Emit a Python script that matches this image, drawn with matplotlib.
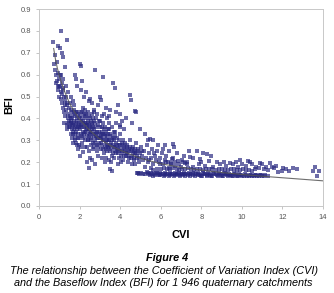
import numpy as np
import matplotlib.pyplot as plt

plt.rcParams['font.family'] = ['Liberation Sans', 'DejaVu Sans']

# points, grouped by region of the cloud
steep_pts = [(0.71,0.75),(1.08,0.80),(1.36,0.76),(0.95,0.73),(1.03,0.72),(1.12,0.70),(1.20,0.68),
             (0.79,0.69),(0.75,0.65),(0.79,0.62),(1.28,0.635),(0.85,0.60),(0.90,0.57),(0.82,0.56),
             (1.00,0.58),(1.05,0.55),(1.15,0.56),(0.95,0.53),(1.10,0.52),(1.20,0.53),(1.25,0.50),
             (1.00,0.50),(1.30,0.48),(1.15,0.47),(1.40,0.46),(1.35,0.44),(1.20,0.45),(1.50,0.45),
             (1.45,0.42),(1.30,0.41),(1.55,0.40),(1.60,0.43),(1.25,0.38),(1.40,0.37),(1.50,0.36),
             (1.60,0.38),(0.88,0.66),(0.92,0.61),(1.10,0.60),(1.18,0.58),(1.32,0.55),(1.45,0.52),
             (1.55,0.50),(1.65,0.48),(1.70,0.46),(0.98,0.545),(1.07,0.49),(1.22,0.43),(1.38,0.47),
             (1.48,0.39),(1.13,0.51),(1.27,0.46),(1.42,0.40),(1.36,0.35),(1.52,0.47),(1.33,0.50),
             (1.17,0.54),(1.02,0.60),(0.93,0.55),(1.44,0.38)]

upper_pts = [(2.02,0.65),(2.05,0.64),(2.76,0.62),(3.14,0.59),(3.66,0.56),(3.75,0.54),(1.77,0.60),
             (1.82,0.58),(1.87,0.55),(2.12,0.57),(2.08,0.53),(3.00,0.50),(3.03,0.485),(4.49,0.505),
             (4.52,0.485),(4.73,0.435),(4.78,0.43),(3.99,0.42),(4.10,0.39),(3.75,0.34),(5.47,0.305),
             (5.60,0.30),(6.21,0.28),(6.62,0.283),(6.67,0.27),(2.30,0.52),(2.50,0.49),(2.60,0.47),
             (2.90,0.46),(3.30,0.45),(3.50,0.44),(3.80,0.43),(4.30,0.40),(2.20,0.50),(2.45,0.48),
             (2.70,0.44),(3.20,0.42),(3.45,0.41),(4.00,0.37),(5.00,0.35),(5.20,0.33),(4.60,0.38),
             (3.90,0.46)]

core_pts = [(1.52,0.41),(1.56,0.38),(1.61,0.35),(1.58,0.33),(1.64,0.40),(1.67,0.37),(1.69,0.34),
            (1.63,0.31),(1.71,0.42),(1.54,0.36),
            (1.74,0.39),(1.78,0.36),(1.81,0.43),(1.76,0.33),(1.85,0.40),(1.83,0.37),(1.88,0.35),
            (1.79,0.30),(1.92,0.42),(1.95,0.38),(1.90,0.33),(1.97,0.36),(1.86,0.28),(1.99,0.31),
            (1.93,0.26),(1.73,0.44),
            (2.02,0.41),(2.06,0.39),(2.04,0.35),(2.09,0.37),(2.12,0.43),(2.15,0.34),(2.11,0.32),
            (2.18,0.39),(2.21,0.36),(2.14,0.29),(2.24,0.41),(2.27,0.38),(2.23,0.33),(2.29,0.35),
            (2.08,0.27),(2.26,0.30),(2.19,0.245),(2.03,0.23),(2.17,0.45),(2.28,0.44),
            (2.32,0.40),(2.35,0.37),(2.31,0.34),(2.38,0.32),(2.41,0.38),(2.44,0.35),(2.47,0.41),
            (2.43,0.30),(2.49,0.33),(2.52,0.36),(2.55,0.39),(2.58,0.31),(2.54,0.28),(2.36,0.27),
            (2.57,0.34),(2.46,0.25),(2.59,0.42),(2.39,0.43),(2.51,0.22),(2.34,0.20),(2.48,0.175),
            (2.62,0.37),(2.65,0.33),(2.68,0.40),(2.71,0.35),(2.74,0.30),(2.77,0.38),(2.79,0.32),
            (2.82,0.36),(2.85,0.28),(2.88,0.34),(2.91,0.31),(2.94,0.39),(2.97,0.29),(2.66,0.26),
            (2.73,0.27),(2.84,0.25),(2.92,0.23),(2.69,0.43),(2.87,0.42),(2.99,0.33),(2.63,0.21),
            (2.78,0.19),
            (3.02,0.36),(3.05,0.31),(3.08,0.34),(3.11,0.28),(3.14,0.38),(3.17,0.30),(3.21,0.33),
            (3.24,0.27),(3.27,0.36),(3.31,0.29),(3.34,0.32),(3.37,0.25),(3.06,0.26),(3.19,0.24),
            (3.29,0.22),(3.12,0.41),(3.36,0.40),(3.23,0.20),(3.39,0.35),(3.09,0.22),
            (3.42,0.30),(3.45,0.27),(3.48,0.33),(3.52,0.25),(3.55,0.29),(3.58,0.36),(3.61,0.23),
            (3.64,0.31),(3.67,0.27),(3.71,0.34),(3.74,0.25),(3.77,0.29),(3.44,0.21),(3.57,0.20),
            (3.69,0.22),(3.52,0.168),(3.62,0.16),(3.79,0.38),(3.47,0.38),
            (3.82,0.26),(3.86,0.31),(3.89,0.24),(3.93,0.28),(3.96,0.22),(4.01,0.33),(4.04,0.26),
            (4.08,0.24),(4.12,0.30),(4.16,0.21),(4.19,0.27),(4.23,0.25),(4.27,0.23),(3.91,0.19),
            (4.06,0.20),(4.21,0.35),(3.98,0.36),
            (4.32,0.28),(4.36,0.24),(4.41,0.26),(4.45,0.22),(4.49,0.30),(4.53,0.25),(4.58,0.23),
            (4.62,0.27),(4.67,0.21),(4.71,0.24),(4.76,0.29),(4.81,0.22),(4.86,0.26),(4.91,0.20),
            (4.96,0.24),(4.39,0.20),(4.56,0.19),(4.74,0.19)]

core2_pts = [(1.55,0.44),(1.59,0.39),(1.62,0.37),(1.66,0.33),(1.68,0.29),(1.72,0.35),(1.75,0.41),
             (1.77,0.31),(1.80,0.38),(1.82,0.34),(1.84,0.29),(1.87,0.43),(1.89,0.39),(1.91,0.36),
             (1.94,0.31),(1.96,0.40),(1.98,0.28),(2.01,0.37),(2.05,0.33),(2.07,0.43),(2.10,0.40),
             (2.13,0.36),(2.16,0.31),(2.20,0.38),(2.22,0.42),(2.25,0.34),(2.28,0.27),(2.30,0.37),
             (2.33,0.42),(2.37,0.35),(2.40,0.30),(2.42,0.39),(2.45,0.37),(2.48,0.32),(2.50,0.40),
             (2.53,0.34),(2.56,0.30),(2.60,0.38),(2.61,0.35),(2.64,0.29),(2.67,0.36),(2.70,0.32),
             (2.72,0.39),(2.75,0.34),(2.78,0.29),(2.81,0.33),(2.83,0.40),(2.86,0.31),(2.89,0.37),
             (2.93,0.27),(2.95,0.34),(2.98,0.31),(3.01,0.39),(3.04,0.29),(3.07,0.32),(3.10,0.36),
             (3.13,0.26),(3.16,0.33),(3.18,0.35),(3.22,0.30),(3.25,0.32),(3.28,0.26),(3.30,0.34),
             (3.33,0.28),(3.35,0.30),(3.38,0.33),(3.41,0.27),(3.43,0.35),(3.46,0.30),(3.50,0.28),
             (3.53,0.32),(3.56,0.26),(3.59,0.30),(3.63,0.28),(3.66,0.24),(3.70,0.30),(3.73,0.27),
             (3.76,0.32),(3.80,0.24),(3.84,0.28),(3.88,0.26),(3.92,0.30),(3.95,0.25),(4.00,0.28),
             (4.03,0.23),(4.07,0.29),(4.11,0.25),(4.15,0.28),(4.18,0.23),(4.22,0.29),(4.26,0.26),
             (4.30,0.24),(4.35,0.27),(4.40,0.23),(4.44,0.25),(4.48,0.27),(4.52,0.22),(4.57,0.26),
             (4.61,0.24),(4.66,0.25),(4.70,0.22),(4.75,0.26),(4.80,0.24),(4.85,0.23),(4.90,0.25),
             (4.95,0.22)]

tail_pts = [(5.02,0.27),(5.08,0.23),(5.13,0.21),(5.19,0.25),(5.26,0.22),(5.31,0.28),(5.38,0.20),
            (5.44,0.24),(5.51,0.22),(5.57,0.26),(5.63,0.19),(5.70,0.23),(5.76,0.21),(5.83,0.25),
            (5.90,0.20),(5.97,0.22),(6.04,0.24),(6.12,0.19),(6.19,0.21),(6.27,0.23),(6.35,0.20),
            (6.43,0.25),(6.52,0.19),(6.60,0.22),(6.71,0.20),(6.80,0.24),(6.92,0.19),(7.03,0.21),
            (7.15,0.23),(7.28,0.20),(5.35,0.30),(5.85,0.28),(6.10,0.26),(7.40,0.25),(7.60,0.22),
            (7.80,0.25),(8.10,0.24),(8.30,0.237),(8.50,0.23),(7.45,0.222),(7.93,0.215),(8.75,0.20),
            (5.20,0.18),(5.50,0.175),(6.40,0.175),(5.10,0.25),(5.42,0.21),(5.66,0.24),(5.95,0.19),
            (6.25,0.20),(6.55,0.215),(6.85,0.205),(7.20,0.195)]

mid_band_pts = [(6.0,0.17),(6.3,0.168),(6.6,0.172),(6.9,0.166),(7.2,0.17),(7.5,0.167),(7.8,0.171),
                (8.1,0.166),(8.4,0.169),(8.7,0.165),(9.0,0.168),(9.3,0.164),(9.6,0.167),(9.9,0.163),
                (10.2,0.166),(10.5,0.162),(8.9,0.19),(9.2,0.185),(9.4,0.195),(9.57,0.19),(9.8,0.18),
                (10.0,0.19),(10.2,0.185),(10.5,0.19),(10.7,0.18),(11.0,0.19),(11.2,0.18),(11.5,0.18),
                (11.7,0.185),(12.05,0.175),(12.5,0.175),(13.5,0.16),(13.8,0.16),(13.7,0.138),
                (8.6,0.18),(8.2,0.185),(7.9,0.19),(7.6,0.18),(7.3,0.19),(7.0,0.18),(6.7,0.185),
                (9.1,0.2),(9.7,0.2),(10.4,0.2),(10.9,0.195),(11.4,0.195),(12.0,0.16),(12.3,0.16),
                (11.8,0.155),(12.7,0.17),(13.6,0.18),
                (5.6,0.165),(5.8,0.17),(6.15,0.173),(6.45,0.167),(6.8,0.17),(7.05,0.168),(7.35,0.172),
                (7.65,0.165),(7.95,0.168),(8.25,0.171),(8.55,0.167),(8.85,0.17),(9.15,0.166),
                (9.45,0.169),(9.75,0.165),(10.05,0.168),(10.35,0.164),(10.65,0.167),(10.85,0.175),
                (11.1,0.17),(11.3,0.165),(9.9,0.21),(10.3,0.205),(8.0,0.2),(8.4,0.205),(7.1,0.2),
                (6.5,0.195),(11.6,0.175),(12.2,0.17)]

low_band_pts = [(4.85,0.153),(5.05,0.151),(5.30,0.154),(5.50,0.150),(5.75,0.153),(5.95,0.151),
                (6.20,0.152),(6.45,0.150),(6.70,0.153),(6.90,0.151),(7.15,0.152),(7.40,0.150),
                (7.60,0.152),(7.85,0.150),(8.10,0.151),(8.35,0.149),(8.60,0.151),(8.85,0.149),
                (9.10,0.150),(9.35,0.148),(9.60,0.149),(9.85,0.147),
                (4.95,0.146),(5.20,0.145),(5.40,0.147),(5.65,0.144),(5.85,0.146),(6.10,0.145),
                (6.30,0.146),(6.55,0.144),(6.80,0.145),(7.05,0.144),(7.25,0.146),(7.50,0.144),
                (7.75,0.145),(7.95,0.143),(8.20,0.145),(8.45,0.143),(8.70,0.144),(8.95,0.142),
                (9.20,0.144),(9.45,0.142),(9.70,0.143),(9.95,0.141),(10.20,0.143),(10.45,0.141),
                (10.70,0.142),(10.95,0.140),
                (5.60,0.139),(5.90,0.140),(6.15,0.138),(6.40,0.139),(6.65,0.138),(6.95,0.139),
                (7.20,0.138),(7.45,0.139),(7.70,0.137),(8.00,0.138),(8.30,0.137),(8.55,0.138),
                (8.80,0.137),(9.05,0.138),(9.30,0.136),(9.55,0.137),(9.80,0.136),(10.10,0.137),
                (10.35,0.136),(10.60,0.137),(10.85,0.136),(11.10,0.138),(11.30,0.137),
                (4.90,0.149),(5.12,0.148),(5.35,0.149),(5.58,0.147),(5.80,0.149),(6.03,0.147),
                (6.25,0.148),(6.50,0.146),(6.75,0.148),(6.98,0.146),(7.20,0.147),(7.45,0.145),
                (7.68,0.147),(7.90,0.145),(8.15,0.146),(8.40,0.144),(8.65,0.146),(8.90,0.144),
                (9.15,0.145),(9.40,0.143),(9.65,0.145),(9.90,0.143),(10.15,0.144),(10.40,0.142),
                (10.65,0.143),(10.90,0.141),(11.15,0.142),
                (5.45,0.142),(5.70,0.141),(5.95,0.143),(6.20,0.141),(6.45,0.142),(6.70,0.140),
                (6.92,0.142),(7.10,0.140),(7.35,0.141),(7.58,0.140),(7.82,0.141),(8.05,0.139),
                (8.28,0.140),(8.50,0.139),(8.75,0.140),(9.00,0.139),(9.25,0.140),(9.50,0.138),
                (9.75,0.139),(10.00,0.138),(10.25,0.139),(10.50,0.138),(10.75,0.139),(11.00,0.137)]

# fitted trend line as it appears in the figure
trend_cvi = [0.72, 0.8, 0.9, 1.0, 1.1, 1.25, 1.5, 1.75, 2.0, 2.5, 3.0, 3.5, 4.0, 5.0,
             6.0, 7.0, 8.0, 9.0, 10.0, 11.0, 12.0, 13.0, 14.0]
trend_bfi = [0.72, 0.675, 0.63, 0.595, 0.565, 0.525, 0.47, 0.43, 0.395, 0.345, 0.305, 0.277,
             0.255, 0.218, 0.193, 0.177, 0.164, 0.153, 0.144, 0.136, 0.129, 0.122, 0.115]

x_ticks = [0, 2, 4, 6, 8, 10, 12, 14]
y_ticks = [0.0, 0.1, 0.2, 0.3, 0.4, 0.5, 0.6, 0.7, 0.8, 0.9]

fig = plt.figure(figsize=(3.34, 2.93), dpi=100)
ax = fig.add_axes([0.117, 0.297, 0.850, 0.672])

all_pts = steep_pts + upper_pts + core_pts + core2_pts + tail_pts + mid_band_pts + low_band_pts
cvi = np.array([p[0] for p in all_pts])
bfi = np.array([p[1] for p in all_pts])
ax.scatter(cvi, bfi, s=5, marker='s', color='#27277f', alpha=0.68, linewidths=0, zorder=2)
ax.plot(trend_cvi, trend_bfi, color='#555555', lw=0.8, alpha=0.85, zorder=3)

ax.set_xlim(0, 14)
ax.set_ylim(0, 0.9)
ax.set_xticks(x_ticks)
ax.set_yticks(y_ticks)
ax.set_xticklabels([str(t) for t in x_ticks])
ax.set_yticklabels([f'{t:.1f}' for t in y_ticks])
ax.tick_params(labelsize=5.5, labelcolor='#555555', color='#bbbbbb', length=2, width=0.6)
for s in ax.spines.values():
    s.set_color('#c8c8c8')
    s.set_linewidth(0.7)

fig.text(0.027, 0.64, 'BFI', rotation=90, ha='center', va='center', fontsize=8, fontweight='bold')
fig.text(0.542, 0.198, 'CVI', ha='center', va='center', fontsize=8, fontweight='bold')
fig.text(0.5, 0.12, 'Figure 4', ha='center', va='center', fontsize=7.8, fontweight='bold', style='italic')
fig.text(0.49, 0.075, 'The relationship between the Coefficient of Variation Index (CVI)',
         ha='center', va='center', fontsize=7.8, style='italic')
fig.text(0.49, 0.035, 'and the Baseflow Index (BFI) for 1 946 quaternary catchments',
         ha='center', va='center', fontsize=7.8, style='italic')

fig.savefig('out.png', dpi=100)
